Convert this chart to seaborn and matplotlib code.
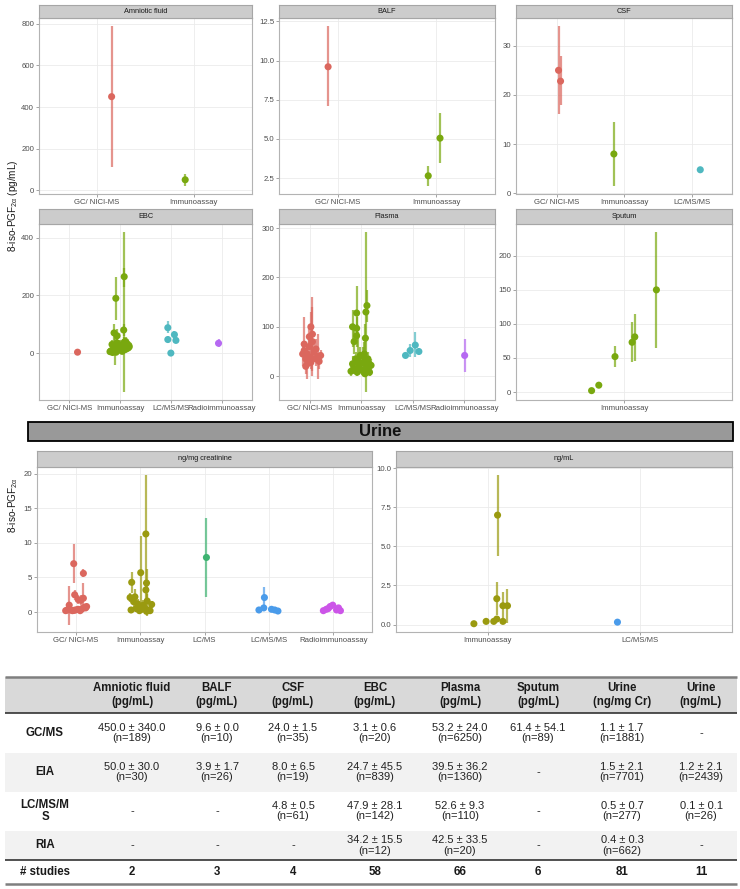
import pandas as pd
import matplotlib.pyplot as plt
from matplotlib.patches import Rectangle
import seaborn as sns

# ─────────────────────────────────────────
# DATA
# each panel: assay, jitter offset, mean, lower, upper
# ─────────────────────────────────────────

GC, IA, LC, LCMS, RIA_ = "GC/ NICI-MS", "Immunoassay", "LC/MS/MS", "LC/MS", "Radioimmunoassay"

amn_cats = [GC, IA]
amn_assay = [GC, IA]
amn_off = [0.15, -0.09]
amn_mean = [450, 50]
amn_lo = [110, 20]
amn_hi = [790, 80]

balf_cats = [GC, IA]
balf_assay = [GC, IA, IA]
balf_off = [-0.10, -0.08, 0.04]
balf_mean = [9.6, 2.65, 5.05]
balf_lo = [7.1, 2.0, 3.45]
balf_hi = [12.2, 3.3, 6.65]

csf_cats = [GC, IA, LC]
csf_assay = [GC, GC, IA, LC]
csf_off = [0.03, 0.06, -0.15, 0.13]
csf_mean = [25.0, 22.8, 8.0, 4.8]
csf_lo = [16.2, 18.0, 1.5, 4.5]
csf_hi = [34.0, 28.0, 14.6, 5.1]

ebc_cats = [GC, IA, LC, RIA_]
ebc_assay = [GC] + [IA] * 30 + [LC] * 5 + [RIA_]
ebc_off = [0.16,
           -0.085, 0.08, 0.07, -0.12, -0.06, 0.07,
           -0.20, -0.18, -0.16, -0.14, -0.12, -0.10, -0.08, -0.06, -0.04, -0.02,
           0.00, 0.02, 0.04, 0.06, 0.08, 0.10, 0.12, 0.14, 0.16, 0.18,
           -0.15, 0.05, 0.11, 0.17,
           -0.06, -0.06, 0.00, 0.07, 0.10,
           -0.06]
ebc_mean = [3.1,
            190, 265, 30, 70, 60, 80,
            5, 8, 30, 12, 25, 18, 3, 35, 10, 22,
            28, 15, 6, 20, 38, 12, 32, 25, 18, 22,
            2, 14, 40, 27,
            88, 47, 0, 64, 44,
            34]
ebc_lo = [2.5,
          115, 230, -135, 40, 35, 60,
          -5, 0, 15, 2, 10, -40, -5, 20, 0, 8,
          12, 5, -2, 5, 20, 2, 15, 10, 5, 8,
          -4, 4, 25, 12,
          70, 35, -5, 50, 35,
          22]
ebc_hi = [3.7,
          265, 295, 420, 100, 85, 100,
          15, 16, 45, 22, 40, 76, 11, 50, 20, 36,
          44, 25, 14, 35, 56, 22, 49, 40, 31, 36,
          8, 24, 55, 42,
          112, 60, 5, 78, 55,
          48]

pla_cats = [GC, IA, LC, RIA_]
pla_assay = [GC] * 20 + [IA] * 27 + [LC] * 4 + [RIA_]
pla_off = [0.02, 0.05, -0.01, -0.14, 0.15, -0.08, -0.05, 0.08, 0.18, 0.12,
           0.05, -0.05, 0.02, -0.11, -0.08, 0.21, 0.12, 0.02, -0.01, -0.11,
           -0.17, -0.09, -0.09, -0.09, -0.14, 0.11, 0.09, 0.08, 0.06,
           -0.20, -0.17, -0.14, -0.11, -0.08, -0.05, -0.02, 0.01, 0.04,
           0.07, 0.10, 0.13, 0.16, 0.19, -0.06, 0.03, 0.12, 0.15,
           -0.14, -0.05, 0.05, 0.12,
           0.01]
pla_mean = [100, 85, 60, 45, 40, 35, 25, 50, 30, 55,
            70, 45, 38, 65, 20, 42, 35, 28, 80, 52,
            100, 97, 128, 82, 70, 143, 130, 77, 45,
            10, 25, 15, 35, 8, 20, 42, 12, 28,
            5, 18, 35, 8, 22, 30, 40, 10, 25,
            42, 52, 63, 50,
            42]
pla_lo = [70, 10, 35, 20, -5, 15, -5, 30, 15, 35,
          0, 25, 20, 45, 5, 30, 20, 15, 60, 40,
          60, 75, 75, 60, 45, 110, -32, 50, 20,
          0, 10, 5, 20, 0, 8, 25, 2, 14,
          -2, 6, 20, 0, 10, 5, 20, 0, 12,
          38, 38, 38, 44,
          9]
pla_hi = [130, 160, 85, 70, 85, 55, 55, 70, 45, 75,
          140, 65, 56, 120, 35, 54, 50, 41, 100, 64,
          135, 120, 182, 105, 95, 175, 292, 105, 70,
          20, 40, 25, 50, 16, 32, 59, 22, 42,
          12, 30, 50, 16, 34, 90, 60, 20, 38,
          46, 65, 90, 56,
          75]

spu_cats = [IA]
spu_assay = [IA] * 6
spu_off = [-0.18, -0.14, -0.05, 0.045, 0.06, 0.18]
spu_mean = [2, 10, 52, 73, 81, 150]
spu_lo = [0, 7, 37, 44, 46, 65]
spu_hi = [4, 13, 67, 103, 115, 235]

ucr_cats = [GC, IA, LCMS, LC, RIA_]
ucr_assay = [GC] * 20 + [IA] * 21 + [LCMS] + [LC] * 6 + [RIA_] * 8
ucr_off = [-0.155, -0.10, -0.015, -0.03, 0.12, 0.04, 0.12, 0.08,
           -0.08, -0.05, 0.0, 0.035, 0.07, 0.10, 0.14, 0.17, 0.155, -0.13, -0.025, 0.09,
           -0.13, -0.155, -0.08, 0.01, 0.09, 0.10, 0.09, -0.10, -0.04, 0.05, 0.11,
           0.18, -0.14, -0.06, -0.01, 0.025, 0.07, 0.13, 0.155, -0.025, 0.10,
           0.03,
           -0.155, -0.08, -0.07, 0.04, 0.09, 0.14,
           -0.155, -0.08, -0.05, -0.01, 0.05, 0.08, 0.11, -0.11]
ucr_mean = [0.2, 1.0, 2.5, 7.0, 5.6, 1.8, 2.0, 1.7,
            0.3, 0.2, 0.3, 0.4, 0.2, 0.5, 0.7, 0.8, 0.6, 0.3, 0.25, 0.4,
            4.3, 2.1, 2.2, 5.7, 11.3, 4.2, 3.2, 1.5, 1.2, 1.0, 1.6,
            1.1, 0.3, 0.5, 0.2, 0.4, 0.6, 0.3, 0.2, 0.7, 0.1,
            7.9,
            0.3, 0.6, 2.1, 0.4, 0.3, 0.15,
            0.2, 0.5, 0.8, 1.0, 0.3, 0.6, 0.2, 0.4]
ucr_lo = [-0.3, -1.8, 1.8, 4.2, 5.0, 1.2, 0.0, 1.0,
          0.0, -0.1, 0.0, 0.1, -0.1, 0.2, 0.4, 0.4, 0.3, 0.0, 0.0, 0.1,
          2.8, 1.5, 1.0, 0.4, 2.8, 2.0, 2.0, 0.8, 0.5, 0.3, 0.6,
          0.6, 0.0, 0.1, -0.2, 0.0, 0.2, -0.1, -0.1, 0.3, -0.6,
          2.2,
          0.2, 0.4, 0.6, 0.3, 0.2, 0.05,
          0.1, 0.35, 0.6, 0.8, 0.15, 0.45, 0.1, 0.25]
ucr_hi = [0.7, 3.7, 3.2, 9.8, 6.2, 2.4, 4.2, 2.4,
          0.6, 0.5, 0.6, 0.7, 0.5, 0.8, 1.0, 1.2, 0.9, 0.6, 0.5, 0.7,
          5.8, 2.7, 3.4, 11.0, 19.9, 6.3, 4.4, 2.2, 1.9, 1.7, 2.6,
          1.6, 0.6, 0.9, 0.6, 0.8, 1.0, 0.7, 0.5, 1.1, 0.8,
          13.6,
          0.4, 0.8, 3.6, 0.5, 0.4, 0.25,
          0.3, 0.65, 1.0, 1.2, 0.45, 0.75, 0.3, 0.55]

uml_cats = [IA, LC]
uml_assay = [IA] * 9 + [LC]
uml_off = [-0.09, -0.01, 0.04, 0.06, 0.065, 0.06, 0.10, 0.10, 0.13, -0.15]
uml_mean = [0.05, 0.2, 0.2, 0.35, 7.0, 1.65, 0.2, 1.2, 1.2, 0.15]
uml_lo = [0.0, 0.1, 0.1, 0.2, 4.4, 0.6, 0.1, 0.3, 0.1, 0.1]
uml_hi = [0.1, 0.3, 0.3, 0.5, 9.6, 2.7, 0.3, 2.1, 2.3, 0.2]

# summary table
tbl_cols = ["Amniotic fluid\n(pg/mL)", "BALF\n(pg/mL)", "CSF\n(pg/mL)", "EBC\n(pg/mL)",
            "Plasma\n(pg/mL)", "Sputum\n(pg/mL)", "Urine\n(ng/mg Cr)", "Urine\n(ng/mL)"]
tbl_rows = ["GC/MS", "EIA", "LC/MS/M\nS", "RIA"]
tbl_gcms = ["450.0 ± 340.0\n(n=189)", "9.6 ± 0.0\n(n=10)", "24.0 ± 1.5\n(n=35)", "3.1 ± 0.6\n(n=20)",
            "53.2 ± 24.0\n(n=6250)", "61.4 ± 54.1\n(n=89)", "1.1 ± 1.7\n(n=1881)", "-"]
tbl_eia = ["50.0 ± 30.0\n(n=30)", "3.9 ± 1.7\n(n=26)", "8.0 ± 6.5\n(n=19)", "24.7 ± 45.5\n(n=839)",
           "39.5 ± 36.2\n(n=1360)", "-", "1.5 ± 2.1\n(n=7701)", "1.2 ± 2.1\n(n=2439)"]
tbl_lcms = ["-", "-", "4.8 ± 0.5\n(n=61)", "47.9 ± 28.1\n(n=142)",
            "52.6 ± 9.3\n(n=110)", "-", "0.5 ± 0.7\n(n=277)", "0.1 ± 0.1\n(n=26)"]
tbl_ria = ["-", "-", "-", "34.2 ± 15.5\n(n=12)", "42.5 ± 33.5\n(n=20)", "-", "0.4 ± 0.3\n(n=662)", "-"]
tbl_studies = [2, 3, 4, 58, 66, 6, 81, 11]

# ─────────────────────────────────────────
# STYLE
# ─────────────────────────────────────────
sns.set_theme(style="whitegrid")
plt.rcParams["font.family"] = ["Liberation Sans", "DejaVu Sans"]

pal_top = {GC: "#DB675E", IA: "#79A80F", LC: "#4FB8C0", RIA_: "#B669F2"}
pal_urine = {GC: "#DB675E", IA: "#9A9A10", LCMS: "#3DB371", LC: "#4A9BEA", RIA_: "#CC55E8"}

W, H = 740, 889
fig = plt.figure(figsize=(W / 100, H / 100), dpi=100)


def px(x0, y0, x1, y1):
    return [x0 / W, 1 - y1 / H, (x1 - x0) / W, (y1 - y0) / H]


bg = fig.add_axes([0, 0, 1, 1])
bg.set_xlim(0, W)
bg.set_ylim(H, 0)
bg.axis("off")


def draw_panel(box, strip_top, title, cats, assay, off, mean, lo, hi, pal, yticks, ylabels):
    x0, y0, x1, y1 = box
    ax = fig.add_axes(px(x0, y0, x1, y1))
    df = pd.DataFrame({"assay": assay, "off": off, "mean": mean, "lo": lo, "hi": hi})
    df["pos"] = df["assay"].map({c: i for i, c in enumerate(cats)}) + df["off"]
    for a, g in df.groupby("assay"):
        ax.vlines(g["pos"], g["lo"], g["hi"], color=pal[a], lw=1.6, alpha=0.7, zorder=2)
    sns.scatterplot(data=df, x="pos", y="mean", hue="assay", palette=pal, s=26,
                    linewidth=0, legend=False, ax=ax, zorder=3)
    ax.set_xlim(-0.6, len(cats) - 0.4)
    ax.set_xticks(range(len(cats)), cats)
    ax.set_yticks(yticks, ylabels)
    ax.set_xlabel("")
    ax.set_ylabel("")
    ax.grid(True, color="#ebebeb", lw=0.6)
    ax.set_axisbelow(True)
    for sp in ax.spines.values():
        sp.set_color("#b3b3b3")
        sp.set_linewidth(0.8)
    ax.tick_params(length=2, width=0.5, color="#7f7f7f", labelcolor="#4d4d4d",
                   labelsize=5.6, pad=1.5, bottom=True, left=True)
    # facet strip
    st = fig.add_axes(px(x0, strip_top, x1, y0))
    st.set_facecolor("#cccccc")
    st.set_xticks([])
    st.set_yticks([])
    for sp in st.spines.values():
        sp.set_color("#a6a6a6")
        sp.set_linewidth(0.8)
    st.text(0.5, 0.5, title, ha="center", va="center", fontsize=5.3, color="#1a1a1a",
            transform=st.transAxes)
    return ax


# ─────────────────────────────────────────
# PANELS
# ─────────────────────────────────────────
draw_panel((39, 18, 252, 194), 5, "Amniotic fluid", amn_cats, amn_assay, amn_off, amn_mean,
           amn_lo, amn_hi, pal_top, [0, 200, 400, 600, 800], ["0", "200", "400", "600", "800"])
draw_panel((279, 18, 495, 194), 5, "BALF", balf_cats, balf_assay, balf_off, balf_mean,
           balf_lo, balf_hi, pal_top, [2.5, 5, 7.5, 10, 12.5], ["2.5", "5.0", "7.5", "10.0", "12.5"])
draw_panel((516, 18, 732, 194), 5, "CSF", csf_cats, csf_assay, csf_off, csf_mean,
           csf_lo, csf_hi, pal_top, [0, 10, 20, 30], ["0", "10", "20", "30"])
draw_panel((39, 224, 252, 400), 209, "EBC", ebc_cats, ebc_assay, ebc_off, ebc_mean,
           ebc_lo, ebc_hi, pal_top, [0, 200, 400], ["0", "200", "400"])
draw_panel((279, 224, 495, 400), 209, "Plasma", pla_cats, pla_assay, pla_off, pla_mean,
           pla_lo, pla_hi, pal_top, [0, 100, 200, 300], ["0", "100", "200", "300"])
draw_panel((516, 224, 732, 400), 209, "Sputum", spu_cats, spu_assay, spu_off, spu_mean,
           spu_lo, spu_hi, pal_top, [0, 50, 100, 150, 200], ["0", "50", "100", "150", "200"])
draw_panel((37, 467, 372, 632), 451, "ng/mg creatinine", ucr_cats, ucr_assay, ucr_off, ucr_mean,
           ucr_lo, ucr_hi, pal_urine, [0, 5, 10, 15, 20], ["0", "5", "10", "15", "20"])
draw_panel((396, 467, 732, 632), 451, "ng/mL", uml_cats, uml_assay, uml_off, uml_mean,
           uml_lo, uml_hi, pal_urine, [0, 2.5, 5, 7.5, 10], ["0.0", "2.5", "5.0", "7.5", "10.0"])

bg.text(13, 206, "8-iso-PGF$_{\\mathregular{2α}}$ (pg/mL)", rotation=90, ha="center", va="center",
        fontsize=7.2, color="#1a1a1a")
bg.text(13, 505, "8-iso-PGF$_{\\mathregular{2α}}$", rotation=90, ha="center", va="center",
        fontsize=7.2, color="#1a1a1a")

# Urine banner
bg.add_patch(Rectangle((28, 422), 705, 19, facecolor="#999999", edgecolor="black", lw=1.3))
bg.text(380, 432, "Urine", ha="center", va="center", fontsize=12, fontweight="bold", color="#111111")

# ─────────────────────────────────────────
# TABLE
# ─────────────────────────────────────────
col_x = [132, 217, 293, 375, 460, 538, 622, 701]
row_y = [733, 772, 811, 845.5]
bg.add_patch(Rectangle((5, 677), 732, 36, facecolor="#d9d9d9", edgecolor="none"))
bg.add_patch(Rectangle((5, 753), 732, 39, facecolor="#f2f2f2", edgecolor="none"))
bg.add_patch(Rectangle((5, 831), 732, 29, facecolor="#f2f2f2", edgecolor="none"))
bg.hlines([677, 884], 5, 737, color="#7f7f7f", lw=1.8)
bg.hlines([713, 860], 5, 737, color="#333333", lw=1.2)

for x, c in zip(col_x, tbl_cols):
    bg.text(x, 695, c, ha="center", va="center", fontsize=8.3, fontweight="bold",
            linespacing=1.15, color="#1a1a1a")
for y, lab, vals in zip(row_y, tbl_rows, [tbl_gcms, tbl_eia, tbl_lcms, tbl_ria]):
    bg.text(45, y, lab, ha="center", va="center", fontsize=8.3, fontweight="bold",
            linespacing=1.1, color="#1a1a1a")
    for x, v in zip(col_x, vals):
        bg.text(x, y, v, ha="center", va="center", fontsize=8, linespacing=1.1, color="#222222")
bg.text(45, 872, "# studies", ha="center", va="center", fontsize=8.3, fontweight="bold", color="#1a1a1a")
for x, n in zip(col_x, tbl_studies):
    bg.text(x, 872, str(n), ha="center", va="center", fontsize=8.3, fontweight="bold", color="#1a1a1a")

fig.savefig("out.png", dpi=100)
